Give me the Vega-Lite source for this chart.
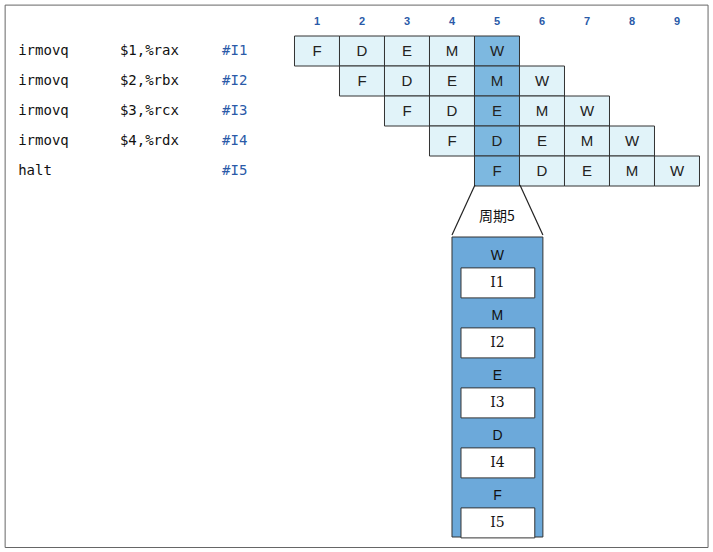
{
"$schema":"https://vega.github.io/schema/vega-lite/v6.json",
"width":713,"height":552,"autosize":{"type":"none"},"padding":0,
"config":{"view":{"stroke":null}},
"background":"white",
"layer":[
{"data":{"values":[{"x1":-5.93,"x2":9.69,"y1":-0.53,"y2":17.55}]},
 "mark":{"type":"rect","fill":null,"stroke":"#666","strokeWidth":1},
 "encoding":{"x":{"field":"x1","type":"quantitative","scale":{"domain":[-6.044,9.8],"nice":false,"zero":false},"axis":null},"x2":{"field":"x2"},
 "y":{"field":"y1","type":"quantitative","scale":{"domain":[-0.7,17.7],"reverse":true,"nice":false,"zero":false},"axis":null},"y2":{"field":"y2"}}},
{"data":{"values":[
{"r":1,"c":1,"s":"F","h":0},{"r":1,"c":2,"s":"D","h":0},{"r":1,"c":3,"s":"E","h":0},{"r":1,"c":4,"s":"M","h":0},{"r":1,"c":5,"s":"W","h":1},
{"r":2,"c":2,"s":"F","h":0},{"r":2,"c":3,"s":"D","h":0},{"r":2,"c":4,"s":"E","h":0},{"r":2,"c":5,"s":"M","h":1},{"r":2,"c":6,"s":"W","h":0},
{"r":3,"c":3,"s":"F","h":0},{"r":3,"c":4,"s":"D","h":0},{"r":3,"c":5,"s":"E","h":1},{"r":3,"c":6,"s":"M","h":0},{"r":3,"c":7,"s":"W","h":0},
{"r":4,"c":4,"s":"F","h":0},{"r":4,"c":5,"s":"D","h":1},{"r":4,"c":6,"s":"E","h":0},{"r":4,"c":7,"s":"M","h":0},{"r":4,"c":8,"s":"W","h":0},
{"r":5,"c":5,"s":"F","h":1},{"r":5,"c":6,"s":"D","h":0},{"r":5,"c":7,"s":"E","h":0},{"r":5,"c":8,"s":"M","h":0},{"r":5,"c":9,"s":"W","h":0}]},
 "transform":[{"calculate":"datum.c-0.5","as":"xa"},{"calculate":"datum.c+0.5","as":"xb"},{"calculate":"datum.r-0.5","as":"ya"},{"calculate":"datum.r+0.5","as":"yb"}],
 "layer":[
 {"mark":{"type":"rect","stroke":"#333","strokeWidth":1},
  "encoding":{"x":{"field":"xa","type":"quantitative"},"x2":{"field":"xb"},"y":{"field":"ya","type":"quantitative"},"y2":{"field":"yb"},
  "fill":{"field":"h","type":"nominal","scale":{"domain":[0,1],"range":["#e1f3f9","#7db8e0"]},"legend":null}}},
 {"mark":{"type":"text","font":"Liberation Sans","fontSize":15,"color":"#222"},
  "encoding":{"x":{"field":"c","type":"quantitative"},"y":{"field":"r","type":"quantitative"},"text":{"field":"s"}}}
 ]},
{"data":{"values":[{"c":1},{"c":2},{"c":3},{"c":4},{"c":5},{"c":6},{"c":7},{"c":8},{"c":9}]},
 "transform":[{"calculate":"0.03","as":"r"}],
 "mark":{"type":"text","font":"Liberation Sans","fontSize":11,"color":"#2a5aa8","fontWeight":"bold"},
 "encoding":{"x":{"field":"c","type":"quantitative"},"y":{"field":"r","type":"quantitative"},"text":{"field":"c"}}},
{"data":{"values":[
{"r":1,"x":-5.64,"t":"irmovq","k":"a"},{"r":1,"x":-3.38,"t":"$1,%rax","k":"a"},{"r":1,"x":-1.11,"t":"#I1","k":"b"},
{"r":2,"x":-5.64,"t":"irmovq","k":"a"},{"r":2,"x":-3.38,"t":"$2,%rbx","k":"a"},{"r":2,"x":-1.11,"t":"#I2","k":"b"},
{"r":3,"x":-5.64,"t":"irmovq","k":"a"},{"r":3,"x":-3.38,"t":"$3,%rcx","k":"a"},{"r":3,"x":-1.11,"t":"#I3","k":"b"},
{"r":4,"x":-5.64,"t":"irmovq","k":"a"},{"r":4,"x":-3.38,"t":"$4,%rdx","k":"a"},{"r":4,"x":-1.11,"t":"#I4","k":"b"},
{"r":5,"x":-5.64,"t":"halt","k":"a"},{"r":5,"x":-1.11,"t":"#I5","k":"b"}]},
 "mark":{"type":"text","font":"DejaVu Sans Mono","fontSize":14,"align":"left"},
 "encoding":{"x":{"field":"x","type":"quantitative"},"y":{"field":"r","type":"quantitative"},"text":{"field":"t"},
 "color":{"field":"k","type":"nominal","scale":{"domain":["a","b"],"range":["#111","#2a5aa8"]},"legend":null}}},
{"data":{"values":[{"g":"l","o":1,"x":4.51,"y":5.47},{"g":"l","o":2,"x":4.0,"y":7.13},{"g":"r","o":1,"x":5.51,"y":5.47},{"g":"r","o":2,"x":6.02,"y":7.13}]},
 "mark":{"type":"line","color":"#222","strokeWidth":1.2},
 "encoding":{"x":{"field":"x","type":"quantitative"},"y":{"field":"y","type":"quantitative"},"detail":{"field":"g"},"order":{"field":"o"}}},
{"data":{"values":[{"x":5.0,"y":6.53,"t":"周期5"}]},
 "mark":{"type":"text","font":"Noto Sans CJK SC","fontSize":14,"color":"#111"},
 "encoding":{"x":{"field":"x","type":"quantitative"},"y":{"field":"y","type":"quantitative"},"text":{"field":"t"}}},
{"data":{"values":[{"x1":4.0,"x2":6.02,"y1":7.2,"y2":17.2}]},
 "mark":{"type":"rect","fill":"#6ca9da","stroke":"#333","strokeWidth":1},
 "encoding":{"x":{"field":"x1","type":"quantitative"},"x2":{"field":"x2"},"y":{"field":"y1","type":"quantitative"},"y2":{"field":"y2"}}},
{"data":{"values":[{"k":0,"s":"W","i":"I1"},{"k":1,"s":"M","i":"I2"},{"k":2,"s":"E","i":"I3"},{"k":3,"s":"D","i":"I4"},{"k":4,"s":"F","i":"I5"}]},
 "transform":[{"calculate":"7.83+2*datum.k","as":"ys"},{"calculate":"8.23+2*datum.k","as":"ya"},{"calculate":"9.23+2*datum.k","as":"yb"},{"calculate":"8.73+2*datum.k","as":"yi"},{"calculate":"4.2","as":"xa"},{"calculate":"5.84","as":"xb"},{"calculate":"5.01","as":"xc"}],
 "layer":[
 {"mark":{"type":"rect","fill":"white","stroke":"#333","strokeWidth":1},
  "encoding":{"x":{"field":"xa","type":"quantitative"},"x2":{"field":"xb"},"y":{"field":"ya","type":"quantitative"},"y2":{"field":"yb"}}},
 {"mark":{"type":"text","font":"Liberation Sans","fontSize":14,"color":"#111"},
  "encoding":{"x":{"field":"xc","type":"quantitative"},"y":{"field":"ys","type":"quantitative"},"text":{"field":"s"}}},
 {"mark":{"type":"text","font":"DejaVu Serif","fontSize":14,"color":"#111"},
  "encoding":{"x":{"field":"xc","type":"quantitative"},"y":{"field":"yi","type":"quantitative"},"text":{"field":"i"}}}
 ]}
]}
